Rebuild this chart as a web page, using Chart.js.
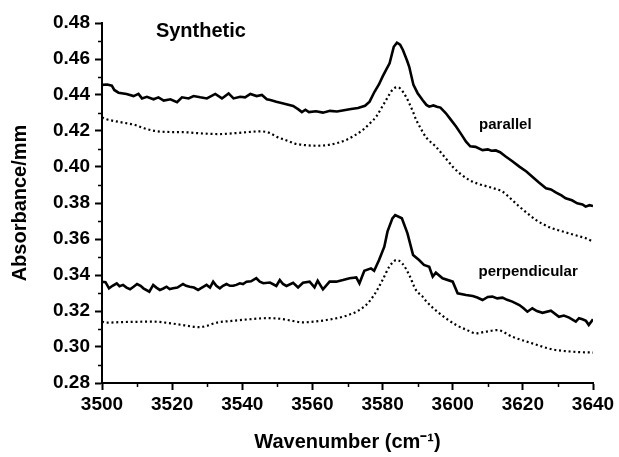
<!DOCTYPE html>
<html>
<head>
<meta charset="utf-8">
<script src="https://cdn.jsdelivr.net/npm/chart.js@4/dist/chart.umd.min.js"></script>
<style>
  html, body { margin: 0; padding: 0; background: #fff; }
  #wrap { width: 619px; height: 457px; }
</style>
</head>
<body>
<div id="wrap"><canvas id="c" width="619" height="457"></canvas></div>
<script>
// ---- data ----
const parallelWn = [3500,3501.5,3502.8,3503.5,3504.7,3507,3509,3510.4,3511.4,3512.8,3514.7,3516.1,3517.6,3519.5,3521.4,3522.8,3524.7,3526.1,3528,3529.9,3532.3,3534.2,3536.1,3537.5,3539.4,3540.8,3542.3,3544.1,3545.6,3547,3548,3549.7,3552,3554.5,3556,3557,3558,3559,3561,3563,3565,3567,3569,3571,3573,3575,3576.3,3577.7,3579,3580,3581,3582,3583.2,3584.1,3585,3585.8,3587,3587.6,3588.8,3590,3591.4,3592.5,3593.3,3594.5,3595.5,3596.5,3598,3599.5,3601,3602.5,3603.8,3605,3606.5,3608.5,3610,3611,3612.3,3613.5,3615.2,3617,3619,3621,3622.7,3624.5,3626.6,3628,3629.5,3631,3632.2,3634,3635.5,3637,3637.9,3639,3640];
const parallelAbs = [0.4456,0.4458,0.4452,0.4428,0.4413,0.4406,0.4394,0.4406,0.4381,0.4390,0.4376,0.4387,0.4369,0.4376,0.4360,0.4387,0.4381,0.4394,0.4387,0.4381,0.4406,0.4381,0.4409,0.4381,0.4390,0.4387,0.4406,0.4394,0.4400,0.4376,0.4372,0.4363,0.4352,0.4339,0.4320,0.4305,0.4318,0.4305,0.4310,0.4302,0.4312,0.4308,0.4315,0.4322,0.4328,0.4340,0.4363,0.4418,0.4460,0.4502,0.4540,0.4576,0.4668,0.4691,0.4680,0.4650,0.4590,0.4557,0.4456,0.4410,0.4372,0.4345,0.4335,0.4342,0.4335,0.4330,0.4300,0.4262,0.4224,0.4180,0.4141,0.4115,0.4112,0.4094,0.4098,0.4090,0.4092,0.4082,0.4057,0.4032,0.4002,0.3975,0.3946,0.3915,0.3882,0.3875,0.3858,0.3842,0.3826,0.3815,0.3798,0.3792,0.3780,0.3788,0.3783];

const parallelFitWn = [3500,3501.3,3505,3509.5,3512,3515.2,3520,3523.8,3528,3533.3,3538,3542.9,3545,3547.7,3549.7,3551,3553,3555,3557.7,3561,3564.3,3567,3569.6,3572,3574.4,3576.5,3578.2,3579.6,3581,3582,3582.9,3584.1,3585,3585.8,3586.7,3587.6,3588.6,3589.6,3590.5,3592.4,3595.2,3597.5,3600,3602.3,3604.7,3607,3609.5,3612,3614.2,3616.5,3619,3621.5,3623.7,3626,3628.4,3631,3633.2,3635.5,3638,3640];
const parallelFitAbs = [0.4275,0.4265,0.4250,0.4233,0.4215,0.4200,0.4194,0.4193,0.4187,0.4183,0.4188,0.4196,0.4198,0.4190,0.4169,0.4159,0.4145,0.4130,0.4122,0.4118,0.4122,0.4133,0.4150,0.4175,0.4206,0.4245,0.4280,0.4325,0.4372,0.4405,0.4431,0.4443,0.4437,0.4418,0.4390,0.4354,0.4310,0.4261,0.4228,0.4165,0.4113,0.4060,0.4002,0.3960,0.3928,0.3908,0.3894,0.3880,0.3863,0.3825,0.3780,0.3740,0.3706,0.3680,0.3659,0.3644,0.3631,0.3618,0.3604,0.3585];

const perpWn = [3500,3501,3502,3503,3504.2,3505,3506,3507,3508,3509,3510,3511,3511.8,3513.5,3514.6,3515.5,3516.5,3517.5,3518.4,3519.3,3520.3,3521.5,3523.1,3524,3525,3526.2,3527.4,3528.5,3529.8,3530.8,3531.7,3532.6,3533.6,3534.5,3535.5,3536.5,3537.4,3538.3,3539.3,3540.2,3541.2,3542.5,3544,3545,3546,3547.9,3549.7,3550.7,3551.6,3552.6,3554.5,3555.9,3557.3,3559.2,3560.6,3561.5,3563,3564.9,3566.8,3568.7,3570.6,3572.5,3573.4,3574.8,3576.7,3577.6,3579,3580.5,3581.4,3582.8,3583.6,3585.5,3587.1,3588.7,3590.4,3591.8,3593.3,3594.3,3595.2,3597.1,3600,3601.4,3603.8,3605.7,3607,3608.5,3610,3611.3,3612.7,3614.2,3615.5,3617,3619,3620.2,3621.3,3622.7,3624,3625.6,3628,3630.3,3631.7,3633.2,3635.1,3636,3637,3638,3638.8,3640];
const perpAbs = [0.3363,0.3360,0.3326,0.3340,0.3354,0.3338,0.3345,0.3330,0.3321,0.3335,0.3350,0.3340,0.3326,0.3307,0.3345,0.3330,0.3317,0.3325,0.3335,0.3322,0.3326,0.3330,0.3350,0.3340,0.3335,0.3330,0.3317,0.3330,0.3345,0.3330,0.3363,0.3340,0.3326,0.3340,0.3350,0.3340,0.3340,0.3345,0.3354,0.3350,0.3363,0.3365,0.3382,0.3363,0.3354,0.3358,0.3339,0.3372,0.3350,0.3339,0.3357,0.3331,0.3357,0.3363,0.3331,0.3368,0.3320,0.3363,0.3363,0.3372,0.3382,0.3387,0.3354,0.3424,0.3437,0.3424,0.3483,0.3557,0.3641,0.3715,0.3733,0.3715,0.3631,0.3511,0.3483,0.3456,0.3446,0.3391,0.3413,0.3382,0.3363,0.3298,0.3289,0.3283,0.3275,0.3261,0.3278,0.3280,0.3270,0.3274,0.3262,0.3252,0.3233,0.3215,0.3196,0.3215,0.3200,0.3190,0.3202,0.3168,0.3175,0.3163,0.3141,0.3160,0.3154,0.3145,0.3122,0.3154];

const perpFitWn = [3500,3501.3,3505,3510,3514.6,3519,3523,3527.8,3530,3532.6,3537,3542,3547,3549.7,3553,3557.3,3561,3564,3568.7,3572.5,3575.3,3577.6,3580,3581.9,3584,3585.6,3587.6,3589.5,3591.4,3592.4,3596.2,3601,3604,3606.6,3609.4,3612.8,3617,3622.7,3628.4,3634.1,3640];
const perpFitAbs = [0.3141,0.3135,0.3138,0.3140,0.3141,0.3133,0.3122,0.3110,0.3118,0.3135,0.3145,0.3154,0.3160,0.3159,0.3150,0.3137,0.3142,0.3150,0.3168,0.3196,0.3233,0.3289,0.3372,0.3446,0.3483,0.3465,0.3400,0.3317,0.3280,0.3255,0.3187,0.3122,0.3095,0.3076,0.3085,0.3094,0.3057,0.3020,0.2987,0.2974,0.2969];

const xMin = 3500, xMax = 3640, xMajor = 20, xMinor = 10;
const yMin = 0.28, yMax = 0.48, yMajor = 0.02, yMinor = 0.01;

const titleText = 'Synthetic';
const xTitle = 'Wavenumber (cm\u207B\u00B9)';
const yTitle = 'Absorbance/mm';
const notes = [
  { text: 'Synthetic', x: 3528.2, y: 0.4752, size: 20 },
  { text: 'parallel', x: 3615, y: 0.4233, size: 15 },
  { text: 'perpendicular', x: 3621.5, y: 0.3417, size: 15 }
];

const FONT = '"Liberation Sans", Arial, Helvetica, sans-serif';

function pts(xs, ys) { return xs.map((x, i) => ({ x: x, y: ys[i] })); }

const minorTicks = {
  id: 'minorTicks',
  afterDraw(chart) {
    const ctx = chart.ctx;
    const xs = chart.scales.x, ys = chart.scales.y;
    ctx.save();
    ctx.strokeStyle = '#000';
    ctx.lineWidth = 1.5;
    ctx.beginPath();
    for (let v = xMin + xMinor; v < xMax; v += xMajor) {
      const px = Math.round(xs.getPixelForValue(v)) + 0.5;
      ctx.moveTo(px, xs.top);
      ctx.lineTo(px, xs.top + 4);
    }
    for (let k = 1; k < Math.round((yMax - yMin) / yMinor); k += 2) {
      const py = Math.round(ys.getPixelForValue(yMin + k * yMinor)) + 0.5;
      ctx.moveTo(ys.right, py);
      ctx.lineTo(ys.right - 4, py);
    }
    ctx.stroke();
    // annotations
    ctx.fillStyle = '#000';
    ctx.textAlign = 'center';
    ctx.textBaseline = 'middle';
    notes.forEach(n => {
      ctx.font = 'bold ' + n.size + 'px ' + FONT;
      ctx.fillText(n.text, xs.getPixelForValue(n.x), ys.getPixelForValue(n.y));
    });
    ctx.restore();
  }
};

new Chart(document.getElementById('c'), {
  type: 'line',
  data: {
    datasets: [
      { label: 'parallel', data: pts(parallelWn, parallelAbs), borderColor: '#000', borderWidth: 2.6, pointRadius: 0, tension: 0, fill: false },
      { label: 'parallel (fit)', data: pts(parallelFitWn, parallelFitAbs), borderColor: '#000', borderWidth: 2.2, borderDash: [2, 2.8], pointRadius: 0, cubicInterpolationMode: 'monotone', fill: false },
      { label: 'perpendicular', data: pts(perpWn, perpAbs), borderColor: '#000', borderWidth: 2.6, pointRadius: 0, tension: 0, fill: false },
      { label: 'perpendicular (fit)', data: pts(perpFitWn, perpFitAbs), borderColor: '#000', borderWidth: 2.2, borderDash: [2, 2.8], pointRadius: 0, cubicInterpolationMode: 'monotone', fill: false }
    ]
  },
  options: {
    responsive: false,
    animation: false,
    devicePixelRatio: 1,
    layout: { padding: { left: 0, right: 26, top: 23, bottom: 0 } },
    plugins: { legend: { display: false }, tooltip: { enabled: false }, title: { display: false } },
    scales: {
      x: {
        type: 'linear', min: xMin, max: xMax,
        afterFit(s) { s.height = 74; },
        border: { display: true, color: '#000', width: 2 },
        grid: { drawOnChartArea: false, drawTicks: true, tickLength: 7, tickColor: '#000', tickWidth: 2 },
        ticks: { stepSize: xMajor, color: '#000', padding: 3, maxRotation: 0, autoSkip: false,
                 font: { family: FONT, size: 19, weight: 'bold' },
                 callback: v => String(v) },
        title: { display: true, text: xTitle, color: '#000', font: { family: FONT, size: 20, weight: 'bold' }, padding: { top: 0, bottom: 3 } }
      },
      y: {
        type: 'linear', min: yMin, max: yMax,
        afterFit(s) { s.width = 102; },
        border: { display: true, color: '#000', width: 2 },
        grid: { drawOnChartArea: false, drawTicks: true, tickLength: 7, tickColor: '#000', tickWidth: 2 },
        ticks: { stepSize: yMajor, color: '#000', padding: 5, autoSkip: false,
                 font: { family: FONT, size: 19, weight: 'bold' },
                 callback: v => Number(v).toFixed(2) },
        title: { display: true, text: yTitle, color: '#000', font: { family: FONT, size: 20, weight: 'bold' }, padding: { top: 8, bottom: 0 } }
      }
    }
  },
  plugins: [minorTicks]
});
</script>
</body>
</html>
